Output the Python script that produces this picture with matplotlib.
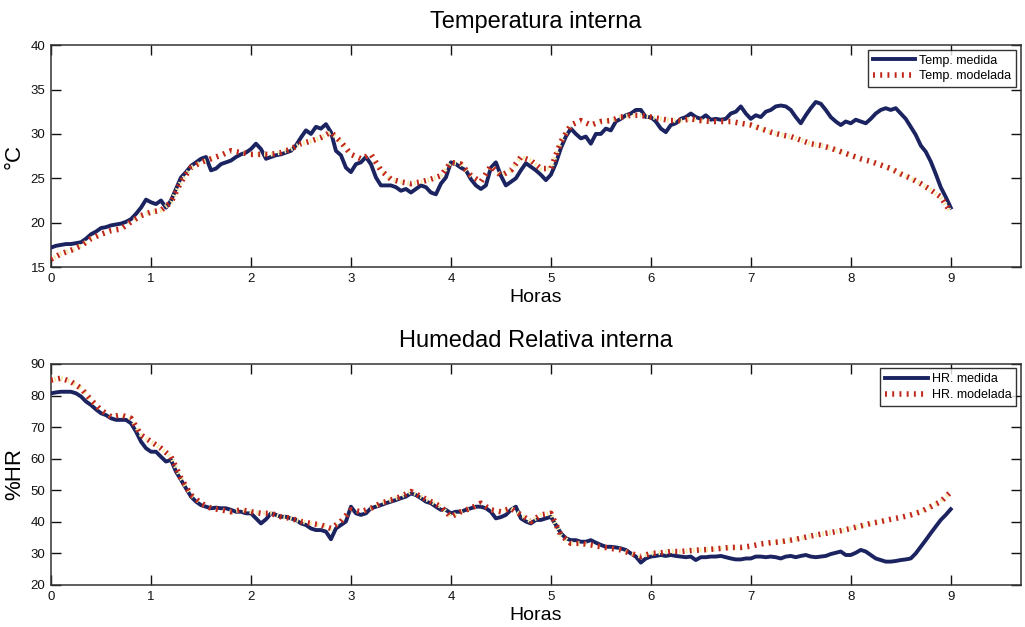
import numpy as np
import matplotlib.pyplot as plt

plt.rcParams['font.family'] = ['Liberation Sans', 'DejaVu Sans']

# Temperatura medida, cada 0.05 h
t_med = np.linspace(0, 9, 181)
temp_med = [
    17.2, 17.4, 17.5, 17.6, 17.6, 17.7, 17.8, 18.2, 18.7, 19.0,
    19.4, 19.5, 19.7, 19.8, 19.9, 20.1, 20.4, 21.0, 21.7, 22.6,
    22.3, 22.1, 22.5, 21.7, 22.5, 23.8, 25.1, 25.7, 26.4, 26.8,
    27.2, 27.4, 25.9, 26.1, 26.6, 26.8, 27.0, 27.4, 27.7, 27.9,
    28.3, 28.9, 28.3, 27.2, 27.4, 27.6, 27.7, 27.9, 28.1, 28.7,
    29.6, 30.4, 30.0, 30.8, 30.6, 31.1, 30.2, 28.1, 27.6, 26.2,
    25.7, 26.6, 26.8, 27.4, 26.6, 25.1, 24.2, 24.2, 24.2, 24.0,
    23.6, 23.8, 23.4, 23.8, 24.2, 24.0, 23.4, 23.2, 24.4, 25.1,
    26.8, 26.6, 26.2, 25.9, 24.9, 24.2, 23.8, 24.2, 26.2, 26.8,
    25.3, 24.2, 24.6, 25.0, 25.9, 26.7, 26.3, 25.9, 25.4, 24.8,
    25.4, 26.7, 28.4, 29.7, 30.6, 30.0, 29.5, 29.7, 28.9, 30.0,
    30.0, 30.6, 30.4, 31.4, 31.7, 32.1, 32.3, 32.7, 32.7, 31.9,
    31.9, 31.4, 30.6, 30.2, 31.0, 31.2, 31.7, 31.9, 32.3, 31.9,
    31.7, 32.1, 31.6, 31.7, 31.6, 31.7, 32.3, 32.5, 33.1, 32.3,
    31.7, 32.1, 31.9, 32.5, 32.7, 33.1, 33.2, 33.1, 32.7, 31.9,
    31.2, 32.1, 32.9, 33.6, 33.4, 32.7, 31.9, 31.4, 31.0, 31.4,
    31.2, 31.6, 31.4, 31.2, 31.7, 32.3, 32.7, 32.9, 32.7, 32.9,
    32.3, 31.7, 30.8, 29.9, 28.7, 28.0, 26.9, 25.5, 24.0, 22.9,
    21.7,
]

# Temperatura modelada, cada 0.1 h
t_mod = np.linspace(0, 9, 91)
temp_mod = [
    15.9, 16.5, 16.9, 17.4, 18.2, 18.7, 19.1, 19.3, 20.1, 20.8,
    21.2, 21.4, 22.3, 24.6, 26.2, 26.8, 27.2, 27.6, 28.1, 27.9,
    27.7, 27.7, 27.7, 27.9, 28.3, 28.9, 29.2, 29.6, 30.2, 29.1,
    27.7, 27.2, 27.7, 25.9, 24.9, 24.6, 24.4, 24.6, 24.9, 25.3,
    26.8, 26.6, 25.3, 24.6, 26.4, 25.3, 25.9, 27.4, 27.0, 26.1,
    26.1, 29.1, 31.0, 31.5, 31.0, 31.4, 31.5, 31.9, 32.1, 32.1,
    31.9, 31.7, 31.5, 31.5, 31.7, 31.5, 31.4, 31.4, 31.4, 31.2,
    31.0, 30.6, 30.2, 29.9, 29.7, 29.3, 28.9, 28.7, 28.4, 28.0,
    27.6, 27.2, 26.9, 26.5, 26.1, 25.5, 25.0, 24.4, 23.7, 22.9,
    21.2,
]

# Humedad relativa medida, cada 0.05 h
hr_med = [
    80.7, 81.0, 81.2, 81.2, 81.2, 80.7, 79.7, 78.1, 77.0, 75.6,
    74.4, 73.8, 72.8, 72.3, 72.3, 72.3, 71.2, 68.6, 65.4, 63.3,
    62.2, 62.2, 60.6, 59.1, 59.6, 55.9, 53.3, 50.6, 48.0, 46.4,
    45.3, 44.8, 44.3, 44.5, 44.3, 44.3, 43.8, 43.2, 43.2, 42.7,
    42.7, 41.1, 39.5, 40.8, 42.7, 42.2, 41.6, 41.6, 41.1, 40.6,
    39.5, 39.0, 37.9, 37.4, 37.4, 36.9, 34.5, 37.9, 39.0, 40.1,
    44.8, 42.7, 42.2, 42.7, 44.3, 44.8, 45.3, 45.9, 46.4, 46.9,
    47.5, 48.0, 49.0, 48.5, 47.5, 46.4, 45.9, 44.8, 43.8, 43.8,
    42.7, 43.2, 43.2, 43.8, 44.3, 44.8, 44.8, 44.3, 43.2, 41.1,
    41.5, 42.2, 43.8, 44.8, 41.1, 40.1, 39.5, 40.6, 40.6, 41.1,
    41.6, 39.0, 36.4, 34.8, 34.2, 34.2, 33.7, 33.7, 34.2, 33.4,
    32.7, 32.1, 32.1, 31.9, 31.6, 31.1, 30.0, 29.0, 27.1, 28.4,
    29.0, 29.2, 29.5, 29.2, 29.5, 29.2, 29.0, 28.8, 29.0, 27.9,
    28.8, 28.8, 29.0, 29.0, 29.2, 28.8, 28.4, 28.1, 28.1, 28.4,
    28.4, 29.0, 29.0, 28.8, 29.0, 28.8, 28.4, 29.0, 29.2, 28.8,
    29.2, 29.5, 29.0, 28.8, 29.0, 29.2, 29.8, 30.2, 30.6, 29.5,
    29.5, 30.2, 31.1, 30.6, 29.5, 28.4, 27.9, 27.4, 27.4, 27.6,
    27.9, 28.1, 28.4, 30.0, 32.1, 34.2, 36.4, 38.5, 40.6, 42.2,
    44.0,
]

# Humedad relativa modelada, cada 0.1 h
hr_mod = [
    84.9, 85.5, 84.4, 82.3, 78.6, 75.4, 73.3, 73.8, 72.8, 67.5,
    65.4, 63.3, 60.6, 53.8, 48.5, 45.9, 44.3, 43.8, 43.2, 43.8,
    43.2, 42.7, 42.7, 41.6, 41.1, 40.1, 39.5, 39.0, 37.9, 40.1,
    43.8, 43.2, 44.3, 45.9, 46.9, 48.0, 49.6, 48.0, 46.4, 44.8,
    41.6, 43.2, 44.3, 45.9, 43.8, 43.2, 44.3, 42.2, 40.1, 42.2,
    42.7, 35.8, 33.2, 33.2, 32.7, 32.1, 31.6, 31.1, 30.0, 29.0,
    30.0, 30.2, 30.6, 30.6, 30.9, 31.1, 31.3, 31.6, 31.9, 31.9,
    32.3, 33.0, 33.4, 33.7, 34.2, 34.8, 35.5, 36.1, 36.6, 37.2,
    37.9, 38.7, 39.5, 40.1, 40.8, 41.4, 42.2, 43.2, 44.8, 46.4,
    49.5,
]

azul = '#1b2461'
rojo = '#c0261c'
amarillo = '#f4eaa0'

fig = plt.figure(figsize=(10.25, 6.27), dpi=100)
ax1 = fig.add_axes([0.0498, 0.574, 0.946, 0.354])
ax2 = fig.add_axes([0.0498, 0.067, 0.946, 0.3525])


def grafica(ax, t1, y1, t2, y2, lab1, lab2, titulo, ylab, ylim, yticks):
    ax.plot(t1, y1, color=azul, linewidth=2.8, label=lab1, zorder=3)
    # linea modelada con rayado rojo/amarillo
    ax.plot(t2, y2, color=amarillo, linewidth=3.2, linestyle=(0.8, (0.35, 1.2)), zorder=4)
    ax.plot(t2, y2, color=rojo, linewidth=4, linestyle=(0, (0.35, 0.95)), label=lab2, zorder=5)
    ax.set_xlim(0, 9.7)
    ax.set_ylim(*ylim)
    ax.set_xticks(range(10))
    ax.set_yticks(yticks)
    ax.tick_params(direction='in', length=7, width=1, top=True, right=True,
                   labelsize=9.5, pad=4, colors='#111111')
    for s in ax.spines.values():
        s.set_linewidth(1.1)
        s.set_color('#333333')
    ax.set_title(titulo, fontsize=17, pad=12)
    ax.set_xlabel('Horas', fontsize=14, labelpad=3)
    ax.set_ylabel(ylab, fontsize=16, labelpad=4)
    leg = ax.legend(loc='upper right', fontsize=9, frameon=True, fancybox=False,
                    handlelength=3.4, borderpad=0.4, labelspacing=0.3,
                    handletextpad=0.3, borderaxespad=0.35)
    leg.get_frame().set_edgecolor('black')
    leg.get_frame().set_linewidth(1)


grafica(ax1, t_med, temp_med, t_mod, temp_mod, 'Temp. medida', 'Temp. modelada',
        'Temperatura interna', '°C', (15, 40), range(15, 41, 5))
grafica(ax2, t_med, hr_med, t_mod, hr_mod, 'HR. medida', 'HR. modelada',
        'Humedad Relativa interna', '%HR', (20, 90), range(20, 91, 10))

fig.savefig('out.png', dpi=100)
